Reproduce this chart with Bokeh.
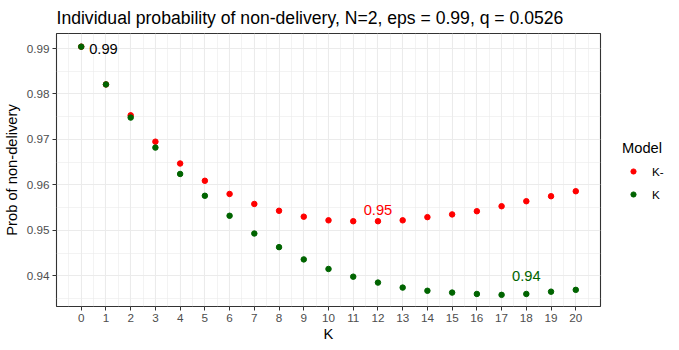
from bokeh.plotting import figure
from bokeh.models import FixedTicker, Legend, LegendItem, Label, Range1d
from bokeh.embed import file_html
from bokeh.resources import INLINE

# ---- data ----
K = list(range(0, 21))
k_minus = [0.9904, 0.9821, 0.9753, 0.9695, 0.9647, 0.9609, 0.9580, 0.9558, 0.9543, 0.9530,
           0.9522, 0.9520, 0.9520, 0.9522, 0.9529, 0.9535, 0.9542, 0.9553, 0.9564, 0.9575, 0.9586]
k_plain = [0.9904, 0.9821, 0.9748, 0.9682, 0.9624, 0.9576, 0.9532, 0.9493, 0.9463, 0.9436,
           0.9415, 0.9398, 0.9385, 0.9374, 0.9367, 0.9363, 0.9360, 0.9358, 0.9360, 0.9365, 0.9369]
series_names = ["K-", "K"]
y_ticks = [0.94, 0.95, 0.96, 0.97, 0.98, 0.99]
y_tick_labels = ["0.94", "0.95", "0.96", "0.97", "0.98", "0.99"]
y_minor = [0.935, 0.945, 0.955, 0.965, 0.975, 0.985, 0.995]
x_minor = [i + 0.5 for i in range(-1, 21)]
annotations = [(0.9, 0.99, "0.99", "black"), (12, 0.9545, "0.95", "red"), (18, 0.94, "0.94", "#006400")]

FONT = "Liberation Sans"
RED = "#FF0000"
GREEN = "#006400"

p = figure(frame_width=544, frame_height=273, x_range=Range1d(-1, 21), y_range=Range1d(0.93324, 0.9933),
           output_backend="svg", toolbar_location=None,
           title="Individual probability of non-delivery, N=2, eps = 0.99, q = 0.0526",
           min_border_left=0, min_border_top=0, min_border_bottom=0, min_border_right=0)

p.title.text_font = FONT
p.title.text_font_size = "17.6px"
p.title.text_font_style = "normal"
p.title.text_color = "black"
p.title.align = "left"
p.title.standoff = 11

p.background_fill_color = "white"
p.border_fill_color = "white"
p.outline_line_color = "#333333"
p.outline_line_width = 1.1

p.xaxis.ticker = FixedTicker(ticks=K, minor_ticks=x_minor)
p.yaxis.ticker = FixedTicker(ticks=y_ticks, minor_ticks=y_minor)
p.xaxis.major_label_overrides = {k: str(k) for k in K}
p.yaxis.major_label_overrides = {t: s for t, s in zip(y_ticks, y_tick_labels)}

for ax in (p.xaxis[0], p.yaxis[0]):
    ax.axis_line_color = None
    ax.major_tick_line_color = "#333333"
    ax.major_tick_in = 0
    ax.major_tick_out = 4
    ax.minor_tick_line_color = None
    ax.major_label_text_font = FONT
    ax.major_label_text_font_size = "11.7px"
    ax.major_label_text_color = "#4D4D4D"
    ax.axis_label_text_font = FONT
    ax.axis_label_text_font_size = "14.7px"
    ax.axis_label_text_font_style = "normal"
    ax.axis_label_text_color = "black"
    ax.major_label_standoff = 3
    ax.axis_label_standoff = 4

p.xaxis.axis_label_standoff = 1
p.xaxis.axis_label = "K"
p.yaxis.axis_label = "Prob of non-delivery"

for g in (p.xgrid[0], p.ygrid[0]):
    g.grid_line_color = "#EBEBEB"
    g.grid_line_width = 1.1
    g.minor_grid_line_color = "#EBEBEB"
    g.minor_grid_line_width = 0.6

r1 = p.scatter(K, k_minus, size=5.5, color=RED)
r2 = p.scatter(K, k_plain, size=5.5, color=GREEN)

for x, y, t, c in annotations:
    p.add_layout(Label(x=x, y=y, text=t, text_color=c, text_font=FONT, text_font_size="14.7px",
                       text_align="center", text_baseline="middle"))

legend = Legend(items=[LegendItem(label=series_names[0], renderers=[r1]),
                       LegendItem(label=series_names[1], renderers=[r2])],
                location="center_left", title="Model")
legend.title_text_font = FONT
legend.title_text_font_size = "14.7px"
legend.title_text_font_style = "normal"
legend.title_text_color = "black"
legend.title_standoff = 9
legend.label_text_font = FONT
legend.label_text_font_size = "11.7px"
legend.label_text_color = "black"
legend.glyph_width = 22
legend.glyph_height = 13
legend.label_height = 13
legend.label_standoff = 8
legend.spacing = 10
legend.padding = 0
legend.margin = 22
legend.border_line_color = None
legend.background_fill_alpha = 0
p.add_layout(legend, "right")

open("out.html", "w").write(file_html(p, INLINE))
